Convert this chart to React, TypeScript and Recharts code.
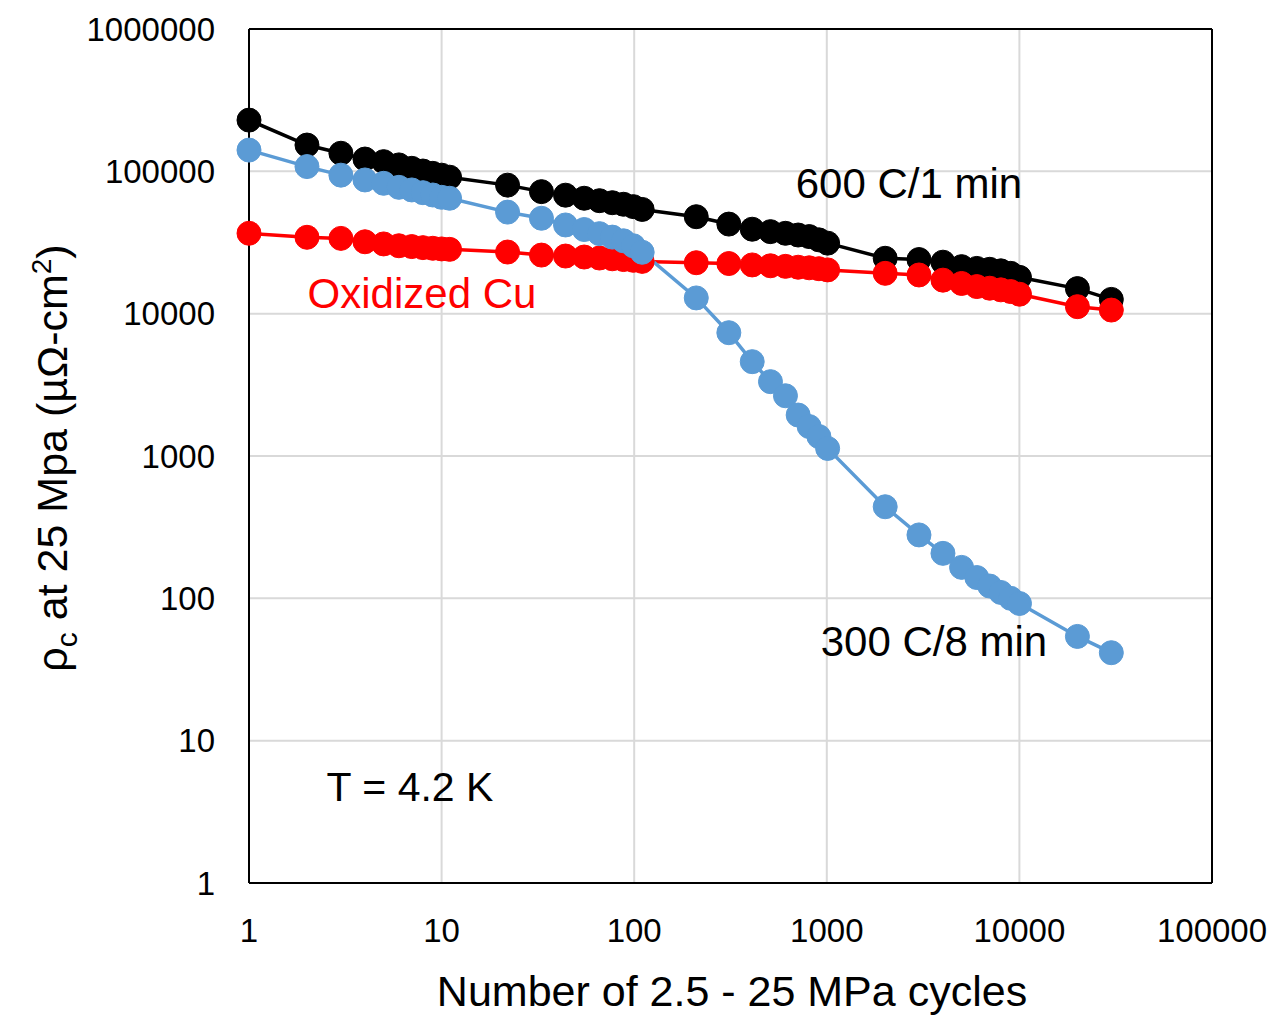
import {
  ComposedChart,
  Line,
  XAxis,
  YAxis,
  CartesianGrid,
  ReferenceLine,
} from "recharts";

// cycle counts (shared by all three series)
const CYCLES = [
  1, 2, 3, 4, 5, 6, 7, 8, 9, 10, 11,
  22, 33, 44, 55, 66, 77, 88, 99, 110,
  210, 310, 410, 510, 610, 710, 810, 910, 1010,
  2010, 3010, 4010, 5010, 6010, 7010, 8010, 9010, 10010,
  20010, 30010,
];

// 600 C / 1 min (black)
const RHO_600C = [
  229000, 153000, 134000, 122000, 117000, 111000, 105000, 100500, 96800, 94000, 91000,
  80000, 72000, 68000, 64700, 62200, 60200, 58700, 56500, 54000,
  48000, 42600, 39200, 37700, 36700, 35700, 34800, 33000, 31300,
  24500, 24000, 23000, 21400, 20800, 20500, 20000, 19200, 18000,
  15000, 12600,
];

// 300 C / 8 min (blue)
const RHO_300C = [
  141000, 108000, 94000, 87000, 82400, 77200, 74000, 70800, 68200, 65700, 64700,
  51700, 46800, 42000, 39000, 36500, 34500, 32500, 30000, 27000,
  12900, 7350, 4600, 3330, 2650, 1940, 1610, 1370, 1130,
  440, 279, 207, 165, 140, 122, 110, 100, 92,
  54, 41.5,
];

// Oxidized Cu (red)
const RHO_OXCU = [
  36700, 34400, 33800, 32000, 30900, 30000, 29600, 29100, 28800, 28500, 28300,
  27100, 25800, 25400, 25000, 24600, 24300, 24000, 23700, 23300,
  22800, 22500, 22000, 21700, 21500, 21200, 21000, 20700, 20300,
  19200, 18700, 17200, 16300, 15500, 15100, 14700, 14300, 13700,
  11200, 10600,
];

const X_TICKS = [1, 10, 100, 1000, 10000, 100000];
const Y_TICKS = [1, 10, 100, 1000, 10000, 100000, 1000000];

const data = CYCLES.map((n, i) => ({
  n,
  a600: RHO_600C[i],
  a300: RHO_300C[i],
  ox: RHO_OXCU[i],
}));

const FONT = "'Liberation Sans', Arial, sans-serif";
const BLUE = "#5B9BD5";
const RED = "#FF0000";

const dot = (color: string) => ({ r: 12, fill: color, stroke: color, strokeWidth: 1 });

export default function App() {
  return (
    <div style={{ position: "absolute", left: 0, top: 0, width: 1267, height: 1023, background: "#fff", fontFamily: FONT }}>
      <ComposedChart width={1267} height={1023} data={data} margin={{ top: 29, right: 55, bottom: 0, left: 0 }}>
        <CartesianGrid stroke="#D9D9D9" strokeWidth={2} />
        <XAxis
          dataKey="n"
          type="number"
          scale="log"
          domain={[1, 100000]}
          ticks={X_TICKS}
          height={140}
          tickSize={0}
          tickMargin={36}
          axisLine={{ stroke: "#000", strokeWidth: 2 }}
          tick={{ fill: "#000", fontSize: 33, fontFamily: FONT }}
        />
        <YAxis
          type="number"
          scale="log"
          domain={[1, 1000000]}
          ticks={Y_TICKS}
          width={249}
          tickSize={0}
          tickMargin={34}
          axisLine={{ stroke: "#000", strokeWidth: 2 }}
          tick={{ fill: "#000", fontSize: 33, fontFamily: FONT }}
        />
        <ReferenceLine y={1000000} stroke="#000" strokeWidth={2} />
        <ReferenceLine x={100000} stroke="#000" strokeWidth={2} />
        <Line dataKey="a600" stroke="#000" strokeWidth={3.5} dot={dot("#000")} isAnimationActive={false} />
        <Line dataKey="ox" stroke={RED} strokeWidth={3.5} dot={dot(RED)} isAnimationActive={false} />
        <Line dataKey="a300" stroke={BLUE} strokeWidth={3.5} dot={dot(BLUE)} isAnimationActive={false} />
      </ComposedChart>

      <svg
        width={1267}
        height={1023}
        style={{ position: "absolute", left: 0, top: 0, pointerEvents: "none", fontFamily: FONT }}
      >
        <text x={909} y={198} textAnchor="middle" fontSize={42} fill="#000">600 C/1 min</text>
        <text x={422} y={308} textAnchor="middle" fontSize={42} fill={RED}>Oxidized Cu</text>
        <text x={934} y={656} textAnchor="middle" fontSize={42} fill="#000">300 C/8 min</text>
        <text x={410} y={801} textAnchor="middle" fontSize={41} fill="#000">T = 4.2 K</text>
        <text x={732} y={1006} textAnchor="middle" fontSize={43} fill="#000">Number of 2.5 - 25 MPa cycles</text>
        <text transform="translate(67, 458) rotate(-90)" textAnchor="middle" fontSize={43} fill="#000">
          <tspan>ρ</tspan>
          <tspan dy={10} fontSize={30}>c</tspan>
          <tspan dy={-10}> at 25 Mpa (µΩ-cm</tspan>
          <tspan dy={-16} fontSize={28}>2</tspan>
          <tspan dy={16}>)</tspan>
        </text>
      </svg>
    </div>
  );
}
